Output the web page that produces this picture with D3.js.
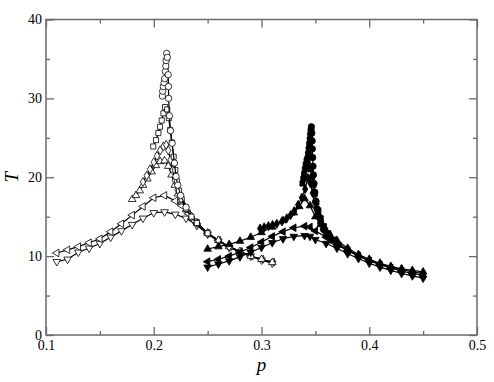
<!DOCTYPE html>
<html>
<head>
<meta charset="utf-8">
<script src="https://cdn.jsdelivr.net/npm/d3@7"></script>
<style>
  html, body { margin: 0; padding: 0; background: #fff; }
  svg { display: block; }
  svg text { font-family: "Liberation Serif", "Times New Roman", serif; }
  .tick text { font-size: 14px; fill: #000; }
</style>
</head>
<body>
<div id="chart"></div>
<script>
// ── Data: [p, T] pairs ───────────────────────────────────────
// open symbols (left peak, p ≈ 0.21)
const openCircles = [[0.2080,30.3],[0.2083,30.9],[0.2089,31.5],[0.2096,32.0],[0.2102,32.5],[0.2108,33.4],[0.2112,34.1],[0.2115,34.8],[0.2120,35.7],[0.2126,35.2],[0.2134,33.0],[0.2137,31.5],[0.2138,30.0],[0.2145,27.8],[0.2155,25.9],[0.2171,24.3],[0.2192,21.8],[0.2207,20.1],[0.2223,19.0],[0.2250,17.7],[0.2300,16.2]];
const openSquares = [[0.1995,23.9],[0.2021,24.7],[0.2043,25.6],[0.2058,26.4],[0.2074,27.2],[0.2090,28.1],[0.2105,28.9],[0.2125,28.6],[0.2140,27.5],[0.2152,26.0],[0.2168,24.4],[0.2185,22.6],[0.2200,20.9],[0.2215,19.5],[0.2235,18.3],[0.2260,17.2],[0.2300,16.0],[0.2350,15.0],[0.2400,14.2],[0.2500,12.9]];
const openDiamonds = [[0.1900,19.4],[0.1935,20.2],[0.1965,21.0],[0.2000,21.9],[0.2030,22.7],[0.2060,23.4],[0.2090,23.9],[0.2115,24.1],[0.2135,23.4],[0.2155,22.2],[0.2175,20.9],[0.2195,19.6],[0.2220,18.4],[0.2250,17.3],[0.2300,16.0],[0.2350,15.0],[0.2400,14.2],[0.2500,12.9],[0.2600,12.0],[0.2700,11.2]];
const openTriUp = [[0.180,17.2],[0.1835,17.7],[0.187,18.3],[0.190,19.0],[0.194,19.8],[0.198,20.7],[0.202,21.5],[0.206,22.0],[0.210,22.1],[0.2135,21.4],[0.2165,20.3],[0.2195,19.0],[0.2225,17.9],[0.226,16.9],[0.230,15.9],[0.235,15.0],[0.240,14.2],[0.250,12.9],[0.260,12.0],[0.270,11.2],[0.280,10.6],[0.290,10.0],[0.300,9.6],[0.310,9.2]];
const openTriLeft = [[0.11,10.4],[0.12,10.8],[0.13,11.2],[0.14,11.7],[0.15,12.2],[0.16,13.1],[0.17,14.1],[0.18,15.2],[0.19,16.3],[0.20,17.4],[0.21,17.7],[0.22,17.0],[0.226,16.4],[0.232,15.4],[0.24,14.2],[0.25,12.9],[0.26,12.0],[0.27,11.2],[0.28,10.6],[0.29,10.0],[0.30,9.6],[0.31,9.25]];
const openTriDown = [[0.11,9.3],[0.12,9.6],[0.13,10.5],[0.14,11.0],[0.15,11.6],[0.16,12.4],[0.17,13.2],[0.18,14.0],[0.19,14.8],[0.20,15.5],[0.21,15.6],[0.22,15.3],[0.23,14.8],[0.24,13.9],[0.25,12.8],[0.26,11.9],[0.27,11.1],[0.28,10.5],[0.29,10.0],[0.30,9.5],[0.31,9.1]];

// filled symbols (right peak, p ≈ 0.345)
const filledCircles = [[0.3420,21.3],[0.3425,21.9],[0.3430,22.5],[0.3436,23.1],[0.3441,23.7],[0.3446,24.3],[0.3451,24.9],[0.3455,25.5],[0.3459,26.0],[0.3463,26.4],[0.3467,25.6],[0.3470,24.6],[0.3472,23.6],[0.3475,22.5],[0.3478,21.4],[0.3482,20.3],[0.3488,19.2],[0.3495,18.1],[0.3504,17.0],[0.3515,16.0],[0.3530,15.1],[0.3550,14.2],[0.3575,13.4],[0.3605,12.7],[0.3650,12.0],[0.3700,11.4]];
const filledSquares = [[0.3380,19.2],[0.3388,19.8],[0.3395,20.4],[0.3402,21.0],[0.3410,21.6],[0.3418,22.1],[0.3455,21.0],[0.3470,20.0],[0.3482,19.0],[0.3495,17.9],[0.3510,16.8],[0.3528,15.8],[0.3550,14.8],[0.3580,13.8],[0.3620,12.9],[0.3670,12.1],[0.3720,11.4],[0.3800,10.6]];
const filledDiamonds = [[0.2987,13.5],[0.3025,13.65],[0.3064,13.8],[0.3103,13.95],[0.3142,14.1],[0.3190,14.4],[0.3235,14.8],[0.3270,15.2],[0.3303,15.7],[0.3340,16.5],[0.3374,17.4],[0.3405,18.5],[0.3430,19.9],[0.3455,19.2],[0.3475,18.0],[0.3495,16.8],[0.3520,15.6],[0.3550,14.5],[0.3590,13.5],[0.3640,12.6],[0.3700,11.7],[0.3800,10.8],[0.3900,10.1],[0.4000,9.5],[0.4100,9.0],[0.4200,8.6],[0.4300,8.3],[0.4400,8.0],[0.4500,7.8]];
const filledTriUp = [[0.25,10.9],[0.26,11.2],[0.27,11.5],[0.28,11.9],[0.29,12.4],[0.30,13.0],[0.31,13.7],[0.32,14.5],[0.33,15.5],[0.335,16.3],[0.34,17.3],[0.345,16.4],[0.35,15.0],[0.355,14.0],[0.36,13.2],[0.37,12.0],[0.38,11.0],[0.39,10.2],[0.40,9.6],[0.41,9.1],[0.42,8.7],[0.43,8.4],[0.44,8.2],[0.45,8.0]];
const filledTriLeft = [[0.25,9.3],[0.26,9.6],[0.27,10.0],[0.28,10.5],[0.29,11.1],[0.30,11.8],[0.31,12.5],[0.32,13.1],[0.33,13.6],[0.34,13.8],[0.345,13.7],[0.35,13.2],[0.36,12.4],[0.37,11.5],[0.38,10.7],[0.39,10.0],[0.40,9.4],[0.41,8.9],[0.42,8.5],[0.43,8.1],[0.44,7.8],[0.45,7.6]];
const filledTriDown = [[0.25,8.6],[0.26,9.0],[0.27,9.4],[0.28,9.9],[0.29,10.5],[0.30,11.1],[0.31,11.7],[0.32,12.2],[0.33,12.5],[0.34,12.6],[0.345,12.5],[0.35,12.1],[0.36,11.6],[0.37,11.0],[0.38,10.3],[0.39,9.7],[0.40,9.1],[0.41,8.6],[0.42,8.2],[0.43,7.8],[0.44,7.5],[0.45,7.2]];

const xTicks = [0.1, 0.2, 0.3, 0.4, 0.5];
const yTicks = [0, 10, 20, 30, 40];

// ── Layout ───────────────────────────────────────────────────
const W = 494, H = 382;
const margin = { top: 19.5, right: 17, bottom: 47, left: 46 };
const iw = W - margin.left - margin.right;
const ih = H - margin.top - margin.bottom;
const SERIF = "'Liberation Serif', 'Times New Roman', serif";

const svg = d3.select("#chart").append("svg")
  .attr("width", W).attr("height", H);

const g = svg.append("g")
  .attr("transform", `translate(${margin.left},${margin.top})`);

const x = d3.scaleLinear().domain([0.1, 0.5]).range([0, iw]);
const y = d3.scaleLinear().domain([0, 40]).range([ih, 0]);

// ── Series (symbol + fill) ───────────────────────────────────
const series = [
  { data: openTriDown,   sym: d3.symbolTriangle, rot: 180, size: 25, fill: "#fff" },
  { data: openTriLeft,   sym: d3.symbolTriangle, rot: -90, size: 25, fill: "#fff" },
  { data: openTriUp,     sym: d3.symbolTriangle, rot: 0,   size: 25, fill: "#fff" },
  { data: openDiamonds,  sym: d3.symbolDiamond,  rot: 0,   size: 24, fill: "#fff" },
  { data: openSquares,   sym: d3.symbolSquare,   rot: 0,   size: 26, fill: "#fff" },
  { data: openCircles,   sym: d3.symbolCircle,   rot: 0,   size: 32, fill: "#fff" },
  { data: filledTriDown, sym: d3.symbolTriangle, rot: 180, size: 25, fill: "#000" },
  { data: filledTriLeft, sym: d3.symbolTriangle, rot: -90, size: 25, fill: "#000" },
  { data: filledTriUp,   sym: d3.symbolTriangle, rot: 0,   size: 25, fill: "#000" },
  { data: filledDiamonds,sym: d3.symbolDiamond,  rot: 0,   size: 24, fill: "#000" },
  { data: filledSquares, sym: d3.symbolSquare,   rot: 0,   size: 26, fill: "#000" },
  { data: filledCircles, sym: d3.symbolCircle,   rot: 0,   size: 32, fill: "#000" }
];

const line = d3.line().x(d => x(d[0])).y(d => y(d[1]));

series.forEach(s => {
  g.append("path")
    .datum(s.data)
    .attr("d", line)
    .attr("fill", "none")
    .attr("stroke", "#000")
    .attr("stroke-width", 1.2);

  g.append("g").selectAll("path")
    .data(s.data)
    .enter().append("path")
    .attr("d", d3.symbol().type(s.sym).size(s.size))
    .attr("transform", d => `translate(${x(d[0])},${y(d[1])}) rotate(${s.rot})`)
    .attr("fill", s.fill)
    .attr("stroke", "#000")
    .attr("stroke-width", 0.8);
});

// ── Axes: inward ticks on all four sides ─────────────────────
const AX = "#6a6a6a";
const xMinor = d3.range(0.15, 0.5, 0.1);
const yMinor = d3.range(5, 40, 10);

function styleAxis(sel) {
  sel.attr("font-family", SERIF);
  sel.select(".domain").remove();
  sel.selectAll(".tick line").attr("stroke", AX).attr("stroke-width", 1.3);
}

g.append("g").attr("transform", `translate(0,${ih})`)
  .call(d3.axisBottom(x).tickValues(xTicks).tickSize(-8).tickFormat(d3.format(".1f")))
  .call(styleAxis)
  .call(a => a.selectAll("text").attr("dy", 0).attr("y", 15));
g.append("g").attr("transform", `translate(0,${ih})`)
  .call(d3.axisBottom(x).tickValues(xMinor).tickSize(-4).tickFormat(""))
  .call(styleAxis);
g.append("g")
  .call(d3.axisTop(x).tickValues(xTicks).tickSize(-8).tickFormat(""))
  .call(styleAxis);
g.append("g")
  .call(d3.axisTop(x).tickValues(xMinor).tickSize(-4).tickFormat(""))
  .call(styleAxis);

g.append("g")
  .call(d3.axisLeft(y).tickValues(yTicks).tickSize(-8).tickPadding(4))
  .call(styleAxis);
g.append("g")
  .call(d3.axisLeft(y).tickValues(yMinor).tickSize(-4).tickFormat(""))
  .call(styleAxis);
g.append("g").attr("transform", `translate(${iw},0)`)
  .call(d3.axisRight(y).tickValues(yTicks).tickSize(-8).tickFormat(""))
  .call(styleAxis);
g.append("g").attr("transform", `translate(${iw},0)`)
  .call(d3.axisRight(y).tickValues(yMinor).tickSize(-4).tickFormat(""))
  .call(styleAxis);

// frame
g.append("rect")
  .attr("width", iw).attr("height", ih)
  .attr("fill", "none")
  .attr("stroke", AX)
  .attr("stroke-width", 1.5);

// ── Axis titles ──────────────────────────────────────────────
svg.append("text")
  .attr("x", margin.left + iw / 2).attr("y", 371)
  .attr("text-anchor", "middle")
  .attr("font-family", SERIF)
  .attr("font-style", "italic")
  .attr("font-size", 19)
  .text("p");

svg.append("text")
  .attr("transform", `translate(18,${margin.top + ih / 2}) rotate(-90)`)
  .attr("text-anchor", "middle")
  .attr("font-family", SERIF)
  .attr("font-style", "italic")
  .attr("font-size", 19)
  .text("T");
</script>
</body>
</html>
